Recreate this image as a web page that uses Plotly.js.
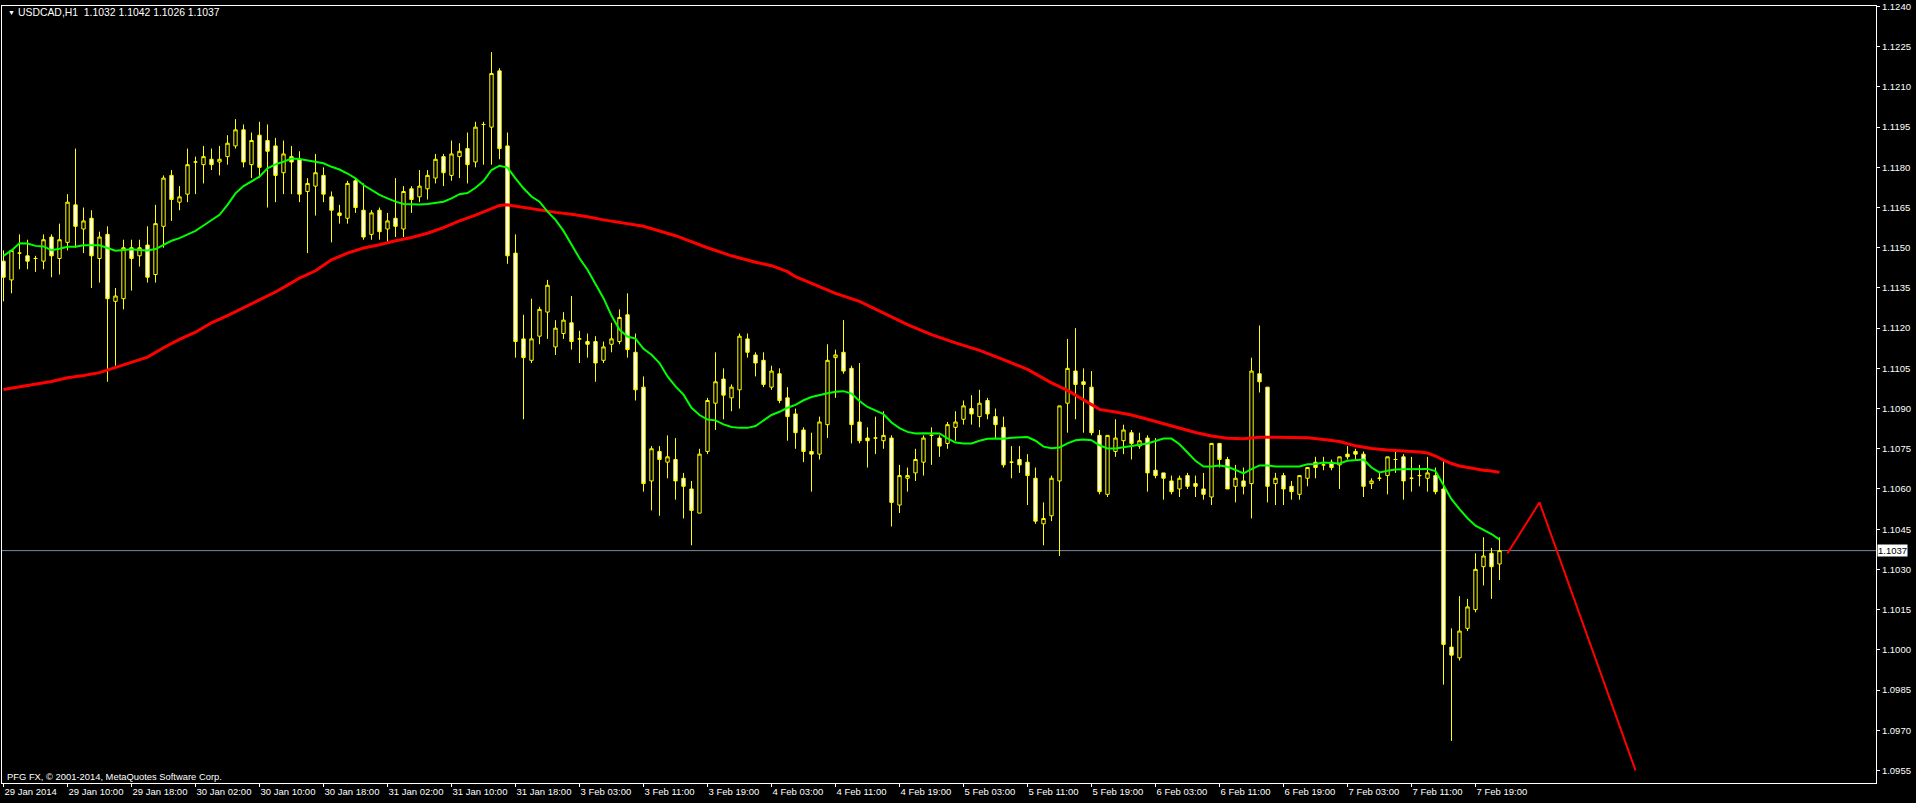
<!DOCTYPE html>
<html>
<head>
<meta charset="utf-8">
<script src="https://cdn.plot.ly/plotly-3.0.1.min.js"></script>
<style>
  html, body { margin: 0; padding: 0; background: #000; }
  #chart { width: 1916px; height: 803px; }
</style>
</head>
<body>
<div id="chart"></div>
<script>
// ---- Data (USDCAD, H1) ----
const symbolTitle = 'USDCAD,H1  1.1032 1.1042 1.1026 1.1037';
const copyrightText = 'PFG FX, © 2001-2014, MetaQuotes Software Corp.';
const lastPrice = 1.1037;

const timeLabels = ['29 Jan 2014','29 Jan 10:00','29 Jan 18:00','30 Jan 02:00','30 Jan 10:00','30 Jan 18:00',
  '31 Jan 02:00','31 Jan 10:00','31 Jan 18:00','3 Feb 03:00','3 Feb 11:00','3 Feb 19:00','4 Feb 03:00',
  '4 Feb 11:00','4 Feb 19:00','5 Feb 03:00','5 Feb 11:00','5 Feb 19:00','6 Feb 03:00','6 Feb 11:00',
  '6 Feb 19:00','7 Feb 03:00','7 Feb 11:00','7 Feb 19:00'];
const barsPerLabel = 8;

const priceTicks = [1.0955,1.0970,1.0985,1.1000,1.1015,1.1030,1.1045,1.1060,1.1075,1.1090,
  1.1105,1.1120,1.1135,1.1150,1.1165,1.1180,1.1195,1.1210,1.1225,1.1240];

const open = [
1.1145,1.1138,1.1148,1.1147,1.1146,1.1145,1.1154,1.1146,1.1152,1.1166,
1.1157,1.1161,1.1146,1.1155,1.1130,1.1131,1.1150,1.1147,1.1151,1.1140,
1.1158,1.1177,1.1167,1.1170,1.1182,1.1181,1.1183,1.1182,1.1184,1.1188,
1.1194,1.1181,1.1192,1.1190,1.1188,1.1178,1.1184,1.1183,1.1171,1.1173,
1.1177,1.1169,1.1163,1.1161,1.1175,1.1164,1.1155,1.1164,1.1157,1.1161,
1.1157,1.1172,1.1169,1.1172,1.1176,1.1184,1.1177,1.1184,1.1187,1.1182,
1.1196,1.1195,1.1216,1.1188,1.1148,1.1116,1.1108,1.1117,1.1126,1.1113,
1.1118,1.1122,1.1116,1.1115,1.1115,1.1108,1.1114,1.1115,1.1125,1.1111,
1.1098,1.1063,1.1074,1.1070,1.1071,1.1064,1.1060,1.1051,1.1074,1.1092,
1.1101,1.1094,1.1097,1.1116,1.1110,1.1108,1.1098,1.1103,1.1094,1.1088,
1.1082,1.1074,1.1073,1.1084,1.1109,1.1111,1.1105,1.1085,1.1079,1.1079,
1.1078,1.1079,1.1054,1.1064,1.1066,1.1070,1.1080,1.1079,1.1077,1.1083,
1.1086,1.1090,1.1087,1.1093,1.1087,1.1083,1.1070,1.1071,1.1070,1.1064,
1.1047,1.1050,1.1063,1.1092,1.1104,1.1100,1.1098,1.1080,1.1058,1.1074,
1.1078,1.1081,1.1076,1.1079,1.1067,1.1066,1.1063,1.1060,1.1065,1.1062,
1.1060,1.1057,1.1077,1.1071,1.1061,1.1063,1.1062,1.1103,1.1098,1.1062,
1.1065,1.1061,1.1058,1.1064,1.1070,1.1069,1.1070,1.1069,1.1073,1.1074,
1.1073,1.1062,1.1064,1.1065,1.1071,1.1072,1.1064,1.1065,1.1064,1.1065,
1.1060,1.1001,1.0997,1.1008,1.1015,1.1031,1.1036,1.1032];
const high = [
1.1149,1.1149,1.1155,1.1153,1.1147,1.1155,1.1155,1.1159,1.1170,1.1187,
1.1165,1.1164,1.1156,1.1158,1.1135,1.1153,1.1153,1.1153,1.1158,1.1166,
1.1177,1.1179,1.1173,1.1187,1.1184,1.1188,1.1187,1.1188,1.1192,1.1198,
1.1196,1.1193,1.1197,1.1196,1.1191,1.1190,1.1188,1.1186,1.1176,1.1185,
1.1180,1.1171,1.1166,1.1175,1.1176,1.1174,1.1164,1.1165,1.1163,1.1176,
1.1173,1.1173,1.1179,1.1179,1.1185,1.1185,1.1190,1.1189,1.1193,1.1197,
1.1197,1.1223,1.1217,1.1193,1.1155,1.1125,1.1131,1.1128,1.1138,1.1123,
1.1126,1.1132,1.1119,1.1118,1.1117,1.1115,1.1122,1.1127,1.1133,1.1118,
1.1102,1.1076,1.1076,1.1080,1.1079,1.1066,1.1063,1.1075,1.1094,1.1111,
1.1105,1.1099,1.1118,1.1118,1.1111,1.1111,1.1106,1.1105,1.1098,1.1090,
1.1083,1.1081,1.1087,1.1114,1.1112,1.1123,1.1106,1.1107,1.1083,1.1087,
1.1089,1.1080,1.1069,1.1068,1.1075,1.1080,1.1083,1.1080,1.1085,1.1089,
1.1093,1.1095,1.1097,1.1094,1.1090,1.1087,1.1076,1.1076,1.1073,1.1068,
1.1055,1.1065,1.1091,1.1116,1.1120,1.1105,1.1104,1.1082,1.1080,1.1086,
1.1084,1.1082,1.1081,1.1080,1.1079,1.1066,1.1065,1.1065,1.1066,1.1065,
1.1066,1.1077,1.1077,1.1072,1.1069,1.1068,1.1109,1.1121,1.1098,1.1066,
1.1066,1.1063,1.1065,1.1068,1.1072,1.1072,1.1071,1.1072,1.1076,1.1075,
1.1074,1.1064,1.1066,1.1072,1.1074,1.1073,1.1072,1.1069,1.1072,1.1068,
1.1071,1.1008,1.1020,1.1019,1.1036,1.1042,1.1038,1.1042];
const low = [
1.1130,1.1133,1.1142,1.1142,1.1141,1.1142,1.1139,1.1140,1.1149,1.1150,
1.1148,1.1135,1.1137,1.1100,1.1106,1.1127,1.1134,1.1143,1.1137,1.1137,
1.1150,1.1160,1.1164,1.1167,1.1170,1.1174,1.1179,1.1177,1.1181,1.1187,
1.1180,1.1176,1.1176,1.1165,1.1167,1.1170,1.1170,1.1167,1.1148,1.1162,
1.1167,1.1152,1.1159,1.1159,1.1163,1.1153,1.1153,1.1153,1.1152,1.1154,
1.1154,1.1163,1.1167,1.1168,1.1174,1.1173,1.1175,1.1176,1.1174,1.1180,
1.1181,1.1181,1.1183,1.1144,1.1109,1.1086,1.1107,1.1114,1.1116,1.1110,
1.1116,1.1112,1.1107,1.1109,1.1100,1.1107,1.1111,1.1114,1.1109,1.1093,
1.1059,1.1052,1.1050,1.1064,1.1056,1.1049,1.1039,1.1051,1.1073,1.1082,
1.1086,1.1089,1.1090,1.1109,1.1102,1.1098,1.1097,1.1092,1.1078,1.1075,
1.1070,1.1059,1.1071,1.1079,1.1094,1.1103,1.1077,1.1077,1.1068,1.1073,
1.1075,1.1046,1.1051,1.1059,1.1063,1.1065,1.1069,1.1072,1.1075,1.1078,
1.1084,1.1084,1.1083,1.1086,1.1079,1.1068,1.1064,1.1066,1.1054,1.1047,
1.1039,1.1048,1.1035,1.1081,1.1086,1.1081,1.1080,1.1058,1.1057,1.1072,
1.1073,1.1071,1.1075,1.1059,1.1064,1.1056,1.1058,1.1057,1.1060,1.1057,
1.1056,1.1054,1.1068,1.1060,1.1055,1.1058,1.1049,1.1096,1.1055,1.1054,
1.1054,1.1056,1.1056,1.1061,1.1064,1.1067,1.1067,1.1060,1.1071,1.1071,
1.1057,1.1060,1.1063,1.1058,1.1066,1.1056,1.1059,1.1061,1.1059,1.1058,
1.0987,1.0966,1.0996,1.1007,1.1014,1.1024,1.1019,1.1026];
const close = [
1.1139,1.1149,1.1148,1.1145,1.1146,1.1153,1.1147,1.1153,1.1167,1.1158,
1.1160,1.1147,1.1154,1.1131,1.1132,1.1150,1.1146,1.1150,1.1139,1.1159,
1.1176,1.1168,1.1169,1.1181,1.1182,1.1184,1.1181,1.1183,1.1189,1.1194,
1.1182,1.1190,1.1180,1.1186,1.1177,1.1185,1.1182,1.1170,1.1174,1.1178,
1.1170,1.1164,1.1162,1.1174,1.1165,1.1154,1.1163,1.1156,1.1160,1.1158,
1.1171,1.1168,1.1173,1.1177,1.1183,1.1178,1.1185,1.1186,1.1181,1.1195,
1.1196,1.1215,1.1187,1.1147,1.1115,1.1109,1.1116,1.1127,1.1136,1.1120,
1.1123,1.1115,1.1116,1.1114,1.1107,1.1113,1.1116,1.1124,1.1112,1.1097,
1.1062,1.1075,1.1071,1.1072,1.1063,1.1061,1.1052,1.1073,1.1093,1.1100,
1.1095,1.1098,1.1117,1.1111,1.1107,1.1099,1.1104,1.1093,1.1087,1.1081,
1.1074,1.1073,1.1085,1.1108,1.1110,1.1104,1.1084,1.1078,1.1078,1.1079,
1.1080,1.1055,1.1065,1.1065,1.1071,1.1079,1.1080,1.1076,1.1084,1.1085,
1.1091,1.1088,1.1092,1.1088,1.1084,1.1069,1.1070,1.1069,1.1065,1.1048,
1.1049,1.1064,1.1091,1.1105,1.1099,1.1099,1.1081,1.1059,1.1080,1.1079,
1.1082,1.1077,1.1078,1.1066,1.1065,1.1064,1.1059,1.1064,1.1061,1.1061,
1.1058,1.1077,1.1071,1.1060,1.1064,1.1061,1.1104,1.1100,1.1061,1.1064,
1.1060,1.1059,1.1065,1.1068,1.1068,1.1069,1.1068,1.1072,1.1072,1.1073,
1.1061,1.1063,1.1064,1.1072,1.1071,1.1063,1.1064,1.1065,1.1066,1.1059,
1.1002,1.0998,1.1007,1.1016,1.1030,1.1035,1.1031,1.1037];

// fast moving average (green), one value per bar
const maFast = [
1.11470,1.11490,1.11517,1.11516,1.11507,1.11505,1.11491,1.11496,1.11504,1.11504,
1.11509,1.11509,1.11509,1.11499,1.11489,1.11492,1.11494,1.11492,1.11490,1.11495,
1.11511,1.11526,1.11536,1.11548,1.11563,1.11583,1.11604,1.11623,1.11660,1.11703,
1.11730,1.11746,1.11765,1.11796,1.11811,1.11821,1.11833,1.11831,1.11826,1.11822,
1.11815,1.11802,1.11792,1.11777,1.11759,1.11734,1.11715,1.11697,1.11684,1.11672,
1.11663,1.11661,1.11661,1.11663,1.11667,1.11672,1.11684,1.11700,1.11704,1.11724,
1.11749,1.11790,1.11806,1.11799,1.11759,1.11722,1.11691,1.11672,1.11635,1.11604,
1.11563,1.11511,1.11461,1.11418,1.11365,1.11312,1.11247,1.11194,1.11169,1.11161,
1.11123,1.11101,1.11070,1.11020,1.10983,1.10952,1.10903,1.10876,1.10859,1.10856,
1.10841,1.10831,1.10828,1.10828,1.10835,1.10856,1.10876,1.10888,1.10903,1.10914,
1.10931,1.10943,1.10951,1.10957,1.10963,1.10965,1.10956,1.10928,1.10906,1.10894,
1.10879,1.10848,1.10827,1.10813,1.10807,1.10808,1.10808,1.10807,1.10789,1.10773,
1.10770,1.10770,1.10780,1.10787,1.10788,1.10787,1.10791,1.10792,1.10794,1.10780,
1.10758,1.10752,1.10755,1.10770,1.10782,1.10785,1.10782,1.10763,1.10751,1.10751,
1.10755,1.10760,1.10765,1.10770,1.10780,1.10788,1.10788,1.10767,1.10736,1.10705,
1.10684,1.10684,1.10688,1.10683,1.10671,1.10658,1.10674,1.10688,1.10688,1.10684,
1.10684,1.10684,1.10684,1.10692,1.10693,1.10699,1.10697,1.10695,1.10705,1.10708,
1.10710,1.10680,1.10662,1.10668,1.10673,1.10674,1.10675,1.10676,1.10675,1.10667,
1.10615,1.10562,1.10525,1.10491,1.10463,1.10447,1.10432,1.10411];

// slow moving average (red), read at these bars
const maSlowBar = [0,2,4,6,8,10,12,14,16,18,20,22,24,26,28,30,32,34,36,37,39,41,43,45,47,49,51,53,55,57,
  59,61,62,63,65,67,69,71,73,75,77,80,84,88,91,94,96,98,99,102,104,107,110,113,116,119,122,125,128,131,
  133,135,137,139,141,143,145,147,149,151,153,155,157,159,161,163,165,167,169,171,173,175,177,178,179,180,
  181,182,183,184,185,186,187];
const maSlow = [1.10971,1.10981,1.10991,1.11001,1.11015,1.11023,1.11034,1.11053,1.11071,1.11092,
  1.11127,1.11158,1.11185,1.11220,1.11247,1.11276,1.11303,1.11335,1.11369,1.11387,1.11414,1.11455,
  1.11480,1.11499,1.11511,1.11526,1.11538,1.11554,1.11575,1.11600,1.11622,1.11647,1.11658,1.11660,
  1.11650,1.11641,1.11632,1.11625,1.11616,1.11604,1.11595,1.11580,1.11545,1.11500,1.11470,1.11446,
  1.11433,1.11411,1.11392,1.11355,1.11330,1.11300,1.11257,1.11213,1.11176,1.11145,1.11117,1.11083,
  1.11046,1.10996,1.10968,1.10934,1.10897,1.10887,1.10876,1.10860,1.10844,1.10829,1.10811,1.10798,
  1.10789,1.10787,1.10793,1.10793,1.10793,1.10791,1.10785,1.10777,1.10761,1.10751,1.10745,1.10742,
  1.10738,1.10734,1.10723,1.10708,1.10695,1.10686,1.10680,1.10674,1.10670,1.10667,1.10662];

// hand-drawn forecast trend lines
const forecastBar = [188, 192, 204];
const forecastPrice = [1.1036, 1.1055, 1.0955];

// ---- Build chart ----
const barIdx = open.map((_, i) => i);
const tickVals = timeLabels.map((_, k) => k * barsPerLabel);
const FONT = 'Liberation Sans, Arial, sans-serif';

const traces = [
  {
    type: 'candlestick', x: barIdx, open: open, high: high, low: low, close: close,
    increasing: {line: {color: '#ffff00', width: 1}, fillcolor: '#000000'},
    decreasing: {line: {color: '#ffff00', width: 1}, fillcolor: '#ffffff'},
    whiskerwidth: 0, hoverinfo: 'skip', showlegend: false
  },
  {
    type: 'scatter', mode: 'lines', x: maSlowBar, y: maSlow,
    line: {color: '#ff0000', width: 3}, hoverinfo: 'skip', showlegend: false
  },
  {
    type: 'scatter', mode: 'lines', x: barIdx, y: maFast,
    line: {color: '#00ff00', width: 2}, hoverinfo: 'skip', showlegend: false
  },
  {
    type: 'scatter', mode: 'lines', x: forecastBar, y: forecastPrice,
    line: {color: '#ff0000', width: 2}, hoverinfo: 'skip', showlegend: false
  }
];

const layout = {
  width: 1916, height: 803,
  paper_bgcolor: '#000000', plot_bgcolor: '#000000',
  margin: {l: 2, r: 40, t: 6, b: 20, pad: 0},
  showlegend: false,
  boxgap: 0.4,
  font: {family: FONT, size: 9.5, color: '#ffffff'},
  xaxis: {
    type: 'linear', range: [-0.1875, 234.0625], rangeslider: {visible: false},
    tickmode: 'array', tickvals: tickVals, ticktext: timeLabels, tickangle: 0,
    ticks: 'outside', ticklen: 3, tickcolor: '#ffffff', tickwidth: 1,
    ticklabelposition: 'outside right', ticklabeloverflow: 'allow',
    tickfont: {family: FONT, size: 9.5, color: '#ffffff'},
    showgrid: false, zeroline: false, showline: true, linecolor: '#ffffff', linewidth: 1, mirror: true,
    fixedrange: true
  },
  yaxis: {
    side: 'right', range: [1.09503, 1.12402],
    tickmode: 'array', tickvals: priceTicks, ticktext: priceTicks.map(v => v.toFixed(4)),
    ticks: 'outside', ticklen: 3, tickcolor: '#ffffff', tickwidth: 1,
    ticklabeloverflow: 'allow',
    tickfont: {family: FONT, size: 9.5, color: '#ffffff'},
    showgrid: false, zeroline: false, showline: true, linecolor: '#ffffff', linewidth: 1, mirror: true,
    fixedrange: true
  },
  shapes: [
    {type: 'line', xref: 'paper', x0: 0, x1: 1, yref: 'y', y0: lastPrice, y1: lastPrice,
     line: {color: '#7b8a9c', width: 1}, layer: 'below'}
  ],
  annotations: [
    {xref: 'paper', yref: 'paper', x: 0, y: 1, xanchor: 'left', yanchor: 'middle', xshift: 4, yshift: -6,
     text: '▼', showarrow: false, font: {family: FONT, size: 7, color: '#ffffff'}},
    {xref: 'paper', yref: 'paper', x: 0, y: 1, xanchor: 'left', yanchor: 'middle', xshift: 14, yshift: -6,
     text: symbolTitle, showarrow: false, font: {family: FONT, size: 10.4, color: '#ffffff'}},
    {xref: 'paper', yref: 'paper', x: 0, y: 0, xanchor: 'left', yanchor: 'middle', xshift: 3, yshift: 7,
     text: copyrightText, showarrow: false, font: {family: FONT, size: 9.4, color: '#ffffff'}},
    {xref: 'paper', yref: 'y', x: 1, y: lastPrice, xanchor: 'left', yanchor: 'middle', xshift: 1,
     text: lastPrice.toFixed(4), showarrow: false, bgcolor: '#ffffff', borderpad: 0,
     font: {family: FONT, size: 9.5, color: '#000000'}}
  ]
};

Plotly.newPlot('chart', traces, layout, {staticPlot: true, displayModeBar: false});
</script>
</body>
</html>
